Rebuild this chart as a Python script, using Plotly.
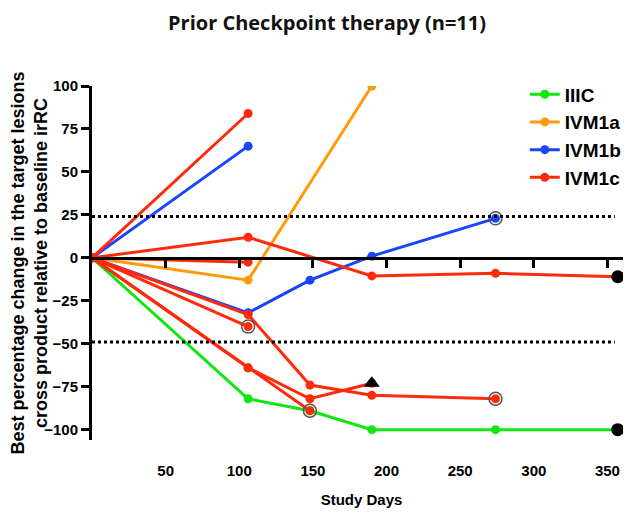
import plotly.graph_objects as go

# ---------------- data ----------------
stages = ["IIIC", "IVM1a", "IVM1b", "IVM1c"]
stage_colors = {"IIIC": "#12e612", "IVM1a": "#ff9a0a", "IVM1b": "#1a44ff", "IVM1c": "#ff2a0a"}

patient_stage = ["IIIC", "IVM1a", "IVM1b", "IVM1b",
                 "IVM1c", "IVM1c", "IVM1c", "IVM1c", "IVM1c", "IVM1c", "IVM1c"]
patient_days = [
    [0, 106, 148, 190, 274, 357],
    [0, 106, 190],
    [0, 106],
    [0, 106, 148, 190, 274],
    [0, 106],
    [0, 106, 190, 274, 357],
    [0, 106],
    [0, 106, 148, 190, 274],
    [0, 106],
    [0, 106, 148, 190],
    [0, 106, 148],
]
patient_change = [
    [0, -82, -89, -100, -100, -100],
    [0, -13, 100],
    [0, 65],
    [0, -32, -13, 1, 23],
    [0, 84],
    [0, 12, -10.5, -9, -11],
    [0, -2.5],
    [0, -33, -74, -80, -82],
    [0, -40],
    [0, -64, -82, -73],
    [0, -64, -89],
]

circled_days = [106, 148, 274, 274]
circled_change = [-40, -89, 23, -82]
black_dot_days = [357, 357]
black_dot_change = [-11, -100]
triangle_days = [190]
triangle_change = [-73]

threshold_levels = [24, -49]
threshold_end_day = 355

x_ticks = [50, 100, 150, 200, 250, 300, 350]
y_ticks = [-100, -75, -50, -25, 0, 25, 50, 75, 100]
x_range = [0, 366]
y_range = [-106, 100]

# ---------------- figure ----------------
fig = go.Figure()

for s in stages:
    first = True
    for st, d, v in zip(patient_stage, patient_days, patient_change):
        if st != s:
            continue
        fig.add_trace(go.Scatter(
            x=d, y=v, mode="lines+markers", name=s, legendgroup=s,
            showlegend=first,
            line=dict(color=stage_colors[s], width=3),
            marker=dict(color=stage_colors[s], size=9),
        ))
        first = False

fig.add_trace(go.Scatter(
    x=circled_days, y=circled_change, mode="markers", showlegend=False,
    marker=dict(symbol="circle-open", size=13, color="#555555", line=dict(width=1.5, color="#555555")),
))
fig.add_trace(go.Scatter(
    x=black_dot_days, y=black_dot_change, mode="markers", showlegend=False,
    marker=dict(symbol="circle", size=13, color="black"),
))
fig.add_trace(go.Scatter(
    x=triangle_days, y=triangle_change, mode="markers", showlegend=False,
    marker=dict(symbol="triangle-up", size=14, color="black"),
))
# dummy trace so the zero-line axis is rendered
fig.add_trace(go.Scatter(x=[x_range[0]], y=[0], xaxis="x2", mode="markers",
                         marker=dict(size=1, opacity=0), showlegend=False, hoverinfo="skip"))

for lvl in threshold_levels:
    fig.add_shape(type="line", x0=0, x1=threshold_end_day, y0=lvl, y1=lvl,
                  xref="x", yref="y", line=dict(color="black", width=3, dash="dot"))

bold_font = dict(family="Liberation Sans, Arial", size=15, color="black", weight="bold")
zero_pos = (0 - y_range[0]) / (y_range[1] - y_range[0])

W, H = 623, 507  # page body adds an 8px offset
fig.update_layout(
    width=W, height=H,
    margin=dict(l=84, r=0, t=78, b=75, autoexpand=False),
    paper_bgcolor="white", plot_bgcolor="white",
    title=dict(text="Prior Checkpoint therapy (n=11)", x=319/W, xanchor="center",
               y=1 - 15/H, yanchor="middle",
               font=dict(family="Open Sans", size=20, color="#111111", weight="bold")),
    xaxis=dict(range=x_range, tickvals=x_ticks, showline=False, showgrid=False, zeroline=False,
               automargin=False,
               ticks="outside", ticklen=17, tickcolor="rgba(0,0,0,0)", tickfont=bold_font,
               title=dict(text="Study Days", font=bold_font, standoff=16)),
    xaxis2=dict(range=x_range, matches="x", overlaying="x", anchor="free", position=zero_pos,
                showline=True, linewidth=3, linecolor="black", ticks="outside", ticklen=8,
                tickwidth=3, tickcolor="black", tickvals=x_ticks, showticklabels=False,
                showgrid=False, zeroline=False, automargin=False),
    yaxis=dict(range=y_range, tickvals=y_ticks, showline=True, linewidth=3, linecolor="black",
               ticks="outside", ticklen=8, tickwidth=3, tickcolor="black", showgrid=False,
               zeroline=False, tickfont=bold_font, automargin=False,
               title=dict(text="Best percentage change in the target lesions<br>cross product relative to baseline irRC",
                          font=dict(family="Liberation Sans, Arial", size=18, color="black", weight="bold"),
                          standoff=1)),
    legend=dict(x=0.803, y=1.03, xanchor="left", yanchor="top", bgcolor="rgba(0,0,0,0)",
                font=dict(family="Liberation Sans, Arial", size=19, color="black", weight="bold"),
                tracegroupgap=0),
)

fig.write_html("out.html")
